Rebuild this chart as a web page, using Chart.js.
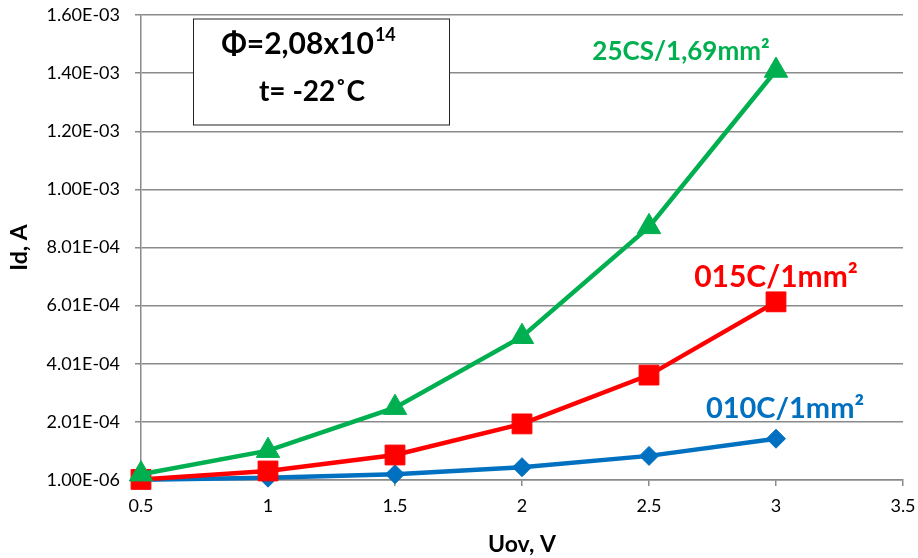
<!DOCTYPE html>
<html>
<head>
<meta charset="utf-8">
<script src="https://cdn.jsdelivr.net/npm/chart.js@4"></script>
<style>
  body { margin: 0; background: #fff; }
  #wrap { width: 918px; height: 558px; }
</style>
</head>
<body>
<div id="wrap"><canvas id="myChart" width="918" height="558"></canvas></div>
<script>
// datos
const uov = [0.5, 1, 1.5, 2, 2.5, 3];
const id010C = [2e-6, 9e-6, 2.1e-5, 4.5e-5, 8.4e-5, 1.43e-4];
const id015C = [3e-6, 3.2e-5, 8.7e-5, 1.94e-4, 3.62e-4, 6.14e-4];
const id25CS = [2.1e-5, 1.02e-4, 2.5e-4, 4.94e-4, 8.72e-4, 1.41e-3];

const xTicks = [0.5, 1, 1.5, 2, 2.5, 3, 3.5];
const xTickLabels = ["0.5", "1", "1.5", "2", "2.5", "3", "3.5"];
const yTicks = [1e-6, 2.01e-4, 4.01e-4, 6.01e-4, 8.01e-4, 1.001e-3, 1.201e-3, 1.401e-3, 1.601e-3];
const yTickLabels = ["1.00E-06", "2.01E-04", "4.01E-04", "6.01E-04", "8.01E-04", "1.00E-03", "1.20E-03", "1.40E-03", "1.60E-03"];

const seriesNames = ["25CS/1,69mm²", "015C/1mm²", "010C/1mm²"];
const boxLines = ["Φ=2,08x10", "14", "t= -22˚C"];

const FONT = "Lato";
const GREEN = "#00B050";
const RED = "#FF0000";
const BLUE = "#0070C0";
const GRID = "#8a8a8a";

const ctx = document.getElementById("myChart");

function puntos(arr) {
  return arr.map((v, i) => ({ x: uov[i], y: v }));
}

// etiquetas de texto y cuadro con condiciones
const notas = {
  id: "notas",
  afterDatasetsDraw(chart) {
    const c = chart.ctx;
    const { x, y } = chart.scales;
    const area = chart.chartArea;
    c.save();

    // cuadro
    const bx = area.left + 52, by = area.top + 3.5, bw = 256, bh = 106;
    c.fillStyle = "#fff";
    c.fillRect(bx, by, bw, bh);
    c.strokeStyle = "#222";
    c.lineWidth = 1;
    c.strokeRect(bx + 0.5, by + 0.5, bw, bh);

    c.fillStyle = "#000";
    c.textBaseline = "alphabetic";
    c.textAlign = "left";
    c.font = "bold 30px " + FONT;
    const w1 = c.measureText(boxLines[0]).width;
    c.font = "bold 18px " + FONT;
    const w2 = c.measureText(boxLines[1]).width;
    const x0 = bx + 115 - (w1 + w2) / 2;
    c.font = "bold 30px " + FONT;
    c.fillText(boxLines[0], x0, by + 35);
    c.font = "bold 18px " + FONT;
    c.fillText(boxLines[1], x0 + w1 + 1, by + 22);
    c.textAlign = "center";
    c.font = "bold 28px " + FONT;
    c.fillText(boxLines[2], bx + 119, by + 82);

    // nombres de las series junto al ultimo punto
    const last = uov.length - 1;
    const etiquetas = [
      { txt: seriesNames[0], col: GREEN, v: id25CS[last], dx: -95, dy: -11, size: 26 },
      { txt: seriesNames[1], col: RED, v: id015C[last], dx: 0, dy: -15, size: 30 },
      { txt: seriesNames[2], col: BLUE, v: id010C[last], dx: 9, dy: -21, size: 29 },
    ];
    c.textAlign = "center";
    etiquetas.forEach((e) => {
      c.fillStyle = e.col;
      c.font = "bold " + e.size + "px " + FONT;
      c.fillText(e.txt, x.getPixelForValue(uov[last]) + e.dx, y.getPixelForValue(e.v) + e.dy);
    });
    c.restore();
  },
};

let chart = new Chart(ctx, {
  type: "line",
  data: {
    datasets: [
      {
        label: seriesNames[0],
        data: puntos(id25CS),
        borderColor: GREEN,
        backgroundColor: GREEN,
        pointStyle: "triangle",
        pointRadius: 13.5,
      },
      {
        label: seriesNames[1],
        data: puntos(id015C),
        borderColor: RED,
        backgroundColor: RED,
        pointStyle: "rect",
        pointRadius: 14,
      },
      {
        label: seriesNames[2],
        data: puntos(id010C),
        borderColor: BLUE,
        backgroundColor: BLUE,
        pointStyle: "rectRot",
        pointRadius: 9.5,
      },
    ],
  },
  options: {
    responsive: false,
    animation: false,
    events: [],
    layout: { autoPadding: false, padding: { left: 0, right: 15, top: 15, bottom: 0 } },
    elements: {
      line: { borderWidth: 4.5, tension: 0 },
      point: { borderWidth: 1, hoverRadius: 0 },
    },
    datasets: { line: { clip: false } },
    plugins: { legend: { display: false }, tooltip: { enabled: false } },
    scales: {
      x: {
        type: "linear",
        min: 0.5,
        max: 3.5,
        afterBuildTicks: (s) => { s.ticks = xTicks.map((v) => ({ value: v })); },
        afterFit: (s) => {
          s.height = 78;
          s.paddingLeft = 0;
          s.paddingRight = 0;
        },
        grid: { drawOnChartArea: false, color: GRID, lineWidth: 1.5, tickLength: 6 },
        border: { color: GRID, width: 1.5 },
        ticks: {
          padding: 9,
          color: "#000",
          font: { family: FONT, size: 18 },
          callback: (v, i) => xTickLabels[i],
        },
        title: {
          display: true,
          text: "Uov, V",
          color: "#000",
          font: { family: FONT, size: 23, weight: "bold" },
          padding: { top: 0, bottom: 0 },
        },
      },
      y: {
        min: 1e-6,
        max: 1.601e-3,
        afterBuildTicks: (s) => { s.ticks = yTicks.map((v) => ({ value: v })); },
        afterFit: (s) => {
          s.width = 141;
          s.paddingTop = 0;
          s.paddingBottom = 0;
        },
        grid: { color: GRID, lineWidth: 1.5, tickLength: 6 },
        border: { color: GRID, width: 1.5 },
        ticks: {
          padding: 15,
          color: "#000",
          font: { family: FONT, size: 18 },
          callback: (v, i) => yTickLabels[i],
        },
        title: {
          display: true,
          text: "Id, A",
          color: "#000",
          font: { family: FONT, size: 23, weight: "bold" },
          padding: { top: 6, bottom: 0 },
        },
      },
    },
  },
  plugins: [notas],
});
</script>
</body>
</html>
